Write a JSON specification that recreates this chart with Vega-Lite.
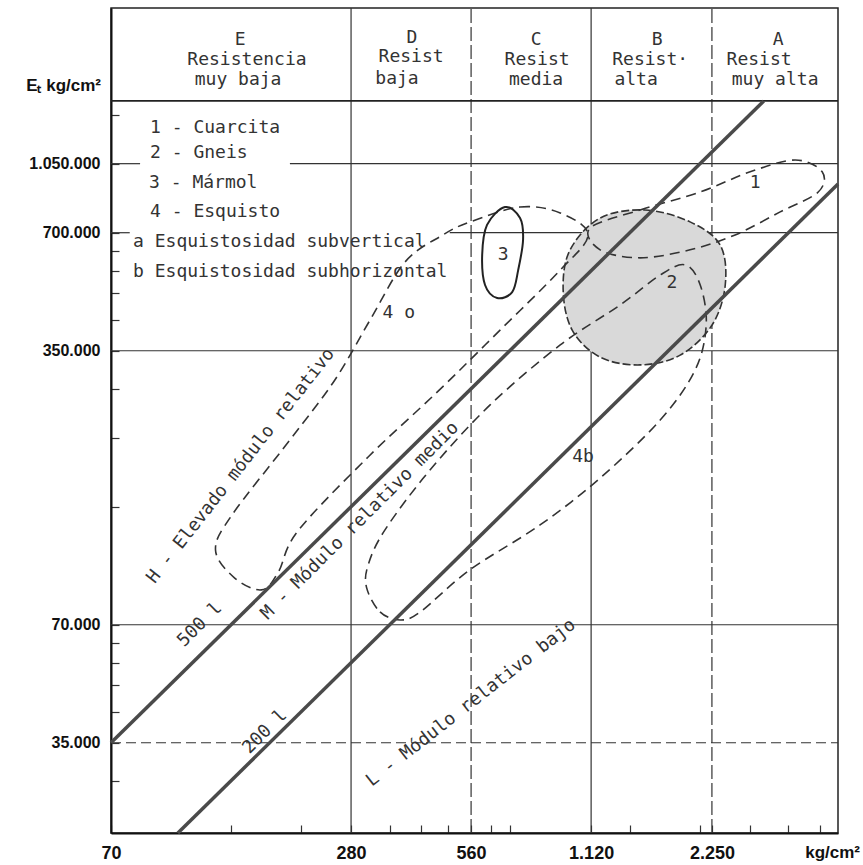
{
  "$schema": "https://vega.github.io/schema/vega-lite/v6.json",
  "width": 727,
  "height": 825,
  "autosize": {"type": "none"},
  "padding": {"left": 111, "top": 8, "right": 25, "bottom": 32},
  "background": "white",
  "config": {"view": {"stroke": "#222", "strokeWidth": 1.5}},
  "datasets": {
    "hgrid": [
      {"E": 1050000, "from": 70, "to": 82.8},
      {"E": 1050000, "from": 196.7, "to": 4660},
      {"E": 700000, "from": 70, "to": 78},
      {"E": 700000, "from": 495, "to": 4660},
      {"E": 350000, "from": 70, "to": 4660},
      {"E": 70000, "from": 70, "to": 4660}
    ],
    "hgridDash": [{"E": 35000, "from": 70, "to": 4660}],
    "vgrid": [{"s": 280}, {"s": 1120}],
    "vgridDash": [{"s": 560}, {"s": 2250}],
    "header": [
      {"t": "E", "s": 147.5, "E": 2171000},
      {"t": "Resistencia", "s": 153.5, "E": 1932000},
      {"t": "muy baja", "s": 145.8, "E": 1718000},
      {"t": "D", "s": 398, "E": 2198000},
      {"t": "Resist", "s": 396, "E": 1965000},
      {"t": "baja", "s": 365, "E": 1728000},
      {"t": "C", "s": 815, "E": 2171000},
      {"t": "Resist", "s": 820, "E": 1932000},
      {"t": "media", "s": 815, "E": 1718000},
      {"t": "B", "s": 1640, "E": 2171000},
      {"t": "Resist·", "s": 1575, "E": 1932000},
      {"t": "alta", "s": 1452, "E": 1718000},
      {"t": "A", "s": 3297, "E": 2171000},
      {"t": "Resist", "s": 2955, "E": 1932000},
      {"t": "muy alta", "s": 3241, "E": 1718000}
    ],
    "legend": [
      {"t": "1 - Cuarcita", "s": 87.7, "E": 1295700},
      {"t": "2 - Gneis", "s": 87.7, "E": 1118600},
      {"t": "3 - Mármol", "s": 87.2, "E": 937800},
      {"t": "4 - Esquisto", "s": 87.7, "E": 791000},
      {"t": "a  Esquistosidad subvertical", "s": 79.5, "E": 663000},
      {"t": "b  Esquistosidad subhorizontal", "s": 79.5, "E": 556000}
    ],
    "ratio": [
      {"k": "500", "s": 70, "E": 35000},
      {"k": "500", "s": 3036, "E": 1518000},
      {"k": "200", "s": 103, "E": 20600},
      {"k": "200", "s": 4660, "E": 932000}
    ],
    "regions": [
      {"r": "3", "i": 1, "s": 681, "E": 814000},
      {"r": "3", "i": 2, "s": 743, "E": 763000},
      {"r": "3", "i": 3, "s": 756, "E": 671000},
      {"r": "3", "i": 4, "s": 735, "E": 562000},
      {"r": "3", "i": 5, "s": 710, "E": 494000},
      {"r": "3", "i": 6, "s": 651, "E": 477000},
      {"r": "3", "i": 7, "s": 607, "E": 515000},
      {"r": "3", "i": 8, "s": 597, "E": 614000},
      {"r": "3", "i": 9, "s": 614, "E": 733000},
      {"r": "2", "i": 1, "s": 1180, "E": 763000},
      {"r": "2", "i": 2, "s": 1530, "E": 800000},
      {"r": "2", "i": 3, "s": 1983, "E": 746000},
      {"r": "2", "i": 4, "s": 2360, "E": 651000},
      {"r": "2", "i": 5, "s": 2430, "E": 515000},
      {"r": "2", "i": 6, "s": 2252, "E": 407000},
      {"r": "2", "i": 7, "s": 1873, "E": 341000},
      {"r": "2", "i": 8, "s": 1486, "E": 322000},
      {"r": "2", "i": 9, "s": 1180, "E": 337000},
      {"r": "2", "i": 10, "s": 1004, "E": 395000},
      {"r": "2", "i": 11, "s": 953, "E": 500000},
      {"r": "2", "i": 12, "s": 992, "E": 633000},
      {"r": "1", "i": 1, "s": 1114, "E": 720000},
      {"r": "1", "i": 2, "s": 1486, "E": 800000},
      {"r": "1", "i": 3, "s": 2103, "E": 889000},
      {"r": "1", "i": 4, "s": 2806, "E": 1001000},
      {"r": "1", "i": 5, "s": 3640, "E": 1073000},
      {"r": "1", "i": 6, "s": 4253, "E": 1001000},
      {"r": "1", "i": 7, "s": 4157, "E": 889000},
      {"r": "1", "i": 8, "s": 3337, "E": 791000},
      {"r": "1", "i": 9, "s": 2573, "E": 691000},
      {"r": "1", "i": 10, "s": 1983, "E": 633000},
      {"r": "1", "i": 11, "s": 1486, "E": 604000},
      {"r": "1", "i": 12, "s": 1180, "E": 633000},
      {"r": "4a", "i": 1, "s": 557, "E": 746000},
      {"r": "4a", "i": 2, "s": 743, "E": 814000},
      {"r": "4a", "i": 3, "s": 937, "E": 786000},
      {"r": "4a", "i": 4, "s": 1100, "E": 691000},
      {"r": "4a", "i": 5, "s": 937, "E": 562000},
      {"r": "4a", "i": 6, "s": 662, "E": 395000},
      {"r": "4a", "i": 7, "s": 463, "E": 276000},
      {"r": "4a", "i": 8, "s": 309, "E": 187500},
      {"r": "4a", "i": 9, "s": 206, "E": 121400},
      {"r": "4a", "i": 10, "s": 184, "E": 95400},
      {"r": "4a", "i": 11, "s": 167, "E": 85900},
      {"r": "4a", "i": 12, "s": 143, "E": 92100},
      {"r": "4a", "i": 13, "s": 128, "E": 108600},
      {"r": "4a", "i": 14, "s": 140.8, "E": 133400},
      {"r": "4a", "i": 15, "s": 196.7, "E": 207200},
      {"r": "4a", "i": 16, "s": 255, "E": 294800},
      {"r": "4a", "i": 17, "s": 312.5, "E": 419300},
      {"r": "4a", "i": 18, "s": 382.5, "E": 589600},
      {"r": "4a", "i": 19, "s": 476, "E": 691000},
      {"r": "4b", "i": 1, "s": 306.4, "E": 86900},
      {"r": "4b", "i": 2, "s": 330.9, "E": 75500},
      {"r": "4b", "i": 3, "s": 371.8, "E": 72000},
      {"r": "4b", "i": 4, "s": 417.5, "E": 75500},
      {"r": "4b", "i": 5, "s": 555.8, "E": 96600},
      {"r": "4b", "i": 6, "s": 834, "E": 125800},
      {"r": "4b", "i": 7, "s": 1180, "E": 165700},
      {"r": "4b", "i": 8, "s": 1669, "E": 233000},
      {"r": "4b", "i": 9, "s": 2042, "E": 312600},
      {"r": "4b", "i": 10, "s": 2177, "E": 407300},
      {"r": "4b", "i": 11, "s": 2103, "E": 515000},
      {"r": "4b", "i": 12, "s": 1928, "E": 579500},
      {"r": "4b", "i": 13, "s": 1669, "E": 546000},
      {"r": "4b", "i": 14, "s": 1325, "E": 458000},
      {"r": "4b", "i": 15, "s": 937, "E": 362100},
      {"r": "4b", "i": 16, "s": 625, "E": 254600},
      {"r": "4b", "i": 17, "s": 441.7, "E": 173700},
      {"r": "4b", "i": 18, "s": 340.6, "E": 122200},
      {"r": "4b", "i": 19, "s": 309, "E": 99400}
    ],
    "marks": [
      {"t": "1", "s": 2890, "E": 937800},
      {"t": "2", "s": 1786, "E": 521000},
      {"t": "3", "s": 674, "E": 614000},
      {"t": "4 o", "s": 369, "E": 437000},
      {"t": "4b", "s": 1069, "E": 187000}
    ],
    "rot45": [
      {"t": "500 l", "s": 117, "E": 70000},
      {"t": "200 l", "s": 170.4, "E": 37300},
      {"t": "M - Módulo relativo medio", "s": 294.8, "E": 128800}
    ],
    "rot52": [{"t": "H - Elevado módulo relativo", "s": 148.3, "E": 178000}],
    "rot38": [{"t": "L - Módulo relativo bajo", "s": 560, "E": 44200}],
    "units": [
      {"t": "Eₜ kg/cm²", "s": 70, "E": 1660000, "side": "y"},
      {"t": "kg/cm²", "s": 4660, "E": 20600, "side": "x"}
    ]
  },
  "layer": [
    {
      "data": {"name": "hgrid"},
      "mark": {"type": "rule", "stroke": "#333", "strokeWidth": 1.2},
      "encoding": {
        "x": {
          "field": "from", "type": "quantitative",
          "scale": {"type": "log", "domain": [70, 4660], "nice": false},
          "axis": {
            "title": null, "grid": false,
            "values": [70, 140, 210, 280, 350, 420, 490, 560, 630, 700, 1120, 1400, 2100, 2250, 2800, 3500, 4200],
            "labelExpr": "indexof([70, 280, 560, 1120, 2250], datum.value) >= 0 ? replace(format(datum.value, ','), ',', '.') : ''",
            "labelOverlap": false, "labelFlush": false,
            "labelFont": "Liberation Sans", "labelFontWeight": "bold", "labelFontSize": 18, "labelColor": "#111",
            "labelBaseline": "middle", "labelPadding": 28,
            "tickSize": -8, "tickColor": "#333", "tickWidth": 1.2,
            "domainColor": "#111", "domainWidth": 2
          }
        },
        "x2": {"field": "to"},
        "y": {
          "field": "E", "type": "quantitative",
          "scale": {"type": "log", "domain": [20600, 2620000], "nice": false},
          "axis": {
            "title": null, "grid": false,
            "values": [28000, 35000, 42000, 49000, 56000, 63000, 70000, 140000, 210000, 280000, 350000, 420000, 490000, 560000, 630000, 700000, 1050000, 1400000],
            "labelExpr": "indexof([35000, 70000, 350000, 700000, 1050000], datum.value) >= 0 ? replace(replace(format(datum.value, ','), ',', '.'), ',', '.') : ''",
            "labelOverlap": false, "labelFlush": false,
            "labelFont": "Liberation Sans", "labelFontWeight": "bold", "labelFontSize": 16, "labelColor": "#111",
            "labelPadding": 19,
            "tickSize": -8, "tickColor": "#333", "tickWidth": 1.2,
            "domainColor": "#111", "domainWidth": 2
          }
        }
      }
    },
    {
      "data": {"name": "vgrid"},
      "mark": {"type": "rule", "stroke": "#333", "strokeWidth": 1.2},
      "encoding": {
        "x": {"field": "s", "type": "quantitative"},
        "y": {"datum": 20600, "type": "quantitative"},
        "y2": {"datum": 2620000}
      }
    },
    {
      "data": {"name": "vgridDash"},
      "mark": {"type": "rule", "stroke": "#333", "strokeWidth": 1.2, "strokeDash": [14, 4]},
      "encoding": {
        "x": {"field": "s", "type": "quantitative"},
        "y": {"datum": 20600, "type": "quantitative"},
        "y2": {"datum": 2620000}
      }
    },
    {
      "data": {"values": [{"E": 1518000}]},
      "mark": {"type": "rule", "stroke": "#222", "strokeWidth": 1.8},
      "encoding": {
        "y": {"field": "E", "type": "quantitative"}
      }
    },
    {
      "data": {"name": "hgridDash"},
      "mark": {"type": "rule", "stroke": "#333", "strokeWidth": 1.1, "strokeDash": [10, 5]},
      "encoding": {
        "x": {"field": "from", "type": "quantitative"},
        "x2": {"field": "to"},
        "y": {"field": "E", "type": "quantitative"}
      }
    },
    {
      "data": {"name": "regions"},
      "transform": [{"filter": "datum.r == '2'"}],
      "mark": {"type": "line", "interpolate": "cardinal-closed", "fill": "#d9d9d9", "stroke": "#333", "strokeWidth": 1.6, "strokeDash": [8, 3]},
      "encoding": {
        "x": {"field": "s", "type": "quantitative"},
        "y": {"field": "E", "type": "quantitative"},
        "order": {"field": "i", "type": "quantitative"}
      }
    },
    {
      "data": {"name": "regions"},
      "transform": [{"filter": "datum.r == '1' || datum.r == '4a' || datum.r == '4b'"}],
      "mark": {"type": "line", "interpolate": "cardinal-closed", "stroke": "#333", "strokeWidth": 1.6, "strokeDash": [10, 6]},
      "encoding": {
        "x": {"field": "s", "type": "quantitative"},
        "y": {"field": "E", "type": "quantitative"},
        "detail": {"field": "r"},
        "order": {"field": "i", "type": "quantitative"}
      }
    },
    {
      "data": {"name": "regions"},
      "transform": [{"filter": "datum.r == '3'"}],
      "mark": {"type": "line", "interpolate": "cardinal-closed", "stroke": "#222", "strokeWidth": 2},
      "encoding": {
        "x": {"field": "s", "type": "quantitative"},
        "y": {"field": "E", "type": "quantitative"},
        "order": {"field": "i", "type": "quantitative"}
      }
    },
    {
      "data": {"name": "ratio"},
      "mark": {"type": "line", "stroke": "#4a4a4a", "strokeWidth": 3.5},
      "encoding": {
        "x": {"field": "s", "type": "quantitative"},
        "y": {"field": "E", "type": "quantitative"},
        "detail": {"field": "k"}
      }
    },
    {
      "data": {"name": "header"},
      "mark": {"type": "text", "font": "DejaVu Sans Mono", "fontSize": 18, "fill": "#333", "align": "center", "baseline": "middle"},
      "encoding": {
        "x": {"field": "s", "type": "quantitative"},
        "y": {"field": "E", "type": "quantitative"},
        "text": {"field": "t"}
      }
    },
    {
      "data": {"name": "legend"},
      "mark": {"type": "text", "font": "DejaVu Sans Mono", "fontSize": 18, "fill": "#333", "align": "left", "baseline": "middle"},
      "encoding": {
        "x": {"field": "s", "type": "quantitative"},
        "y": {"field": "E", "type": "quantitative"},
        "text": {"field": "t"}
      }
    },
    {
      "data": {"name": "marks"},
      "mark": {"type": "text", "font": "DejaVu Sans Mono", "fontSize": 18, "fill": "#333", "align": "center", "baseline": "middle"},
      "encoding": {
        "x": {"field": "s", "type": "quantitative"},
        "y": {"field": "E", "type": "quantitative"},
        "text": {"field": "t"}
      }
    },
    {
      "data": {"name": "rot45"},
      "mark": {"type": "text", "font": "DejaVu Sans Mono", "fontSize": 18, "fill": "#333", "align": "center", "baseline": "middle", "angle": 315},
      "encoding": {
        "x": {"field": "s", "type": "quantitative"},
        "y": {"field": "E", "type": "quantitative"},
        "text": {"field": "t"}
      }
    },
    {
      "data": {"name": "rot52"},
      "mark": {"type": "text", "font": "DejaVu Sans Mono", "fontSize": 18, "fill": "#333", "align": "center", "baseline": "middle", "angle": 308},
      "encoding": {
        "x": {"field": "s", "type": "quantitative"},
        "y": {"field": "E", "type": "quantitative"},
        "text": {"field": "t"}
      }
    },
    {
      "data": {"name": "rot38"},
      "mark": {"type": "text", "font": "DejaVu Sans Mono", "fontSize": 18, "fill": "#333", "align": "center", "baseline": "middle", "angle": 322},
      "encoding": {
        "x": {"field": "s", "type": "quantitative"},
        "y": {"field": "E", "type": "quantitative"},
        "text": {"field": "t"}
      }
    },
    {
      "data": {"name": "units"},
      "transform": [{"filter": "datum.side == 'y'"}],
      "mark": {"type": "text", "font": "Liberation Sans", "fontWeight": "bold", "fontSize": 17, "fill": "#111", "align": "right", "baseline": "middle", "dx": -10},
      "encoding": {
        "x": {"field": "s", "type": "quantitative"},
        "y": {"field": "E", "type": "quantitative"},
        "text": {"field": "t"}
      }
    },
    {
      "data": {"name": "units"},
      "transform": [{"filter": "datum.side == 'x'"}],
      "mark": {"type": "text", "font": "Liberation Sans", "fontWeight": "bold", "fontSize": 17, "fill": "#111", "align": "right", "baseline": "middle", "dx": 22, "dy": 20},
      "encoding": {
        "x": {"field": "s", "type": "quantitative"},
        "y": {"field": "E", "type": "quantitative"},
        "text": {"field": "t"}
      }
    }
  ]
}
